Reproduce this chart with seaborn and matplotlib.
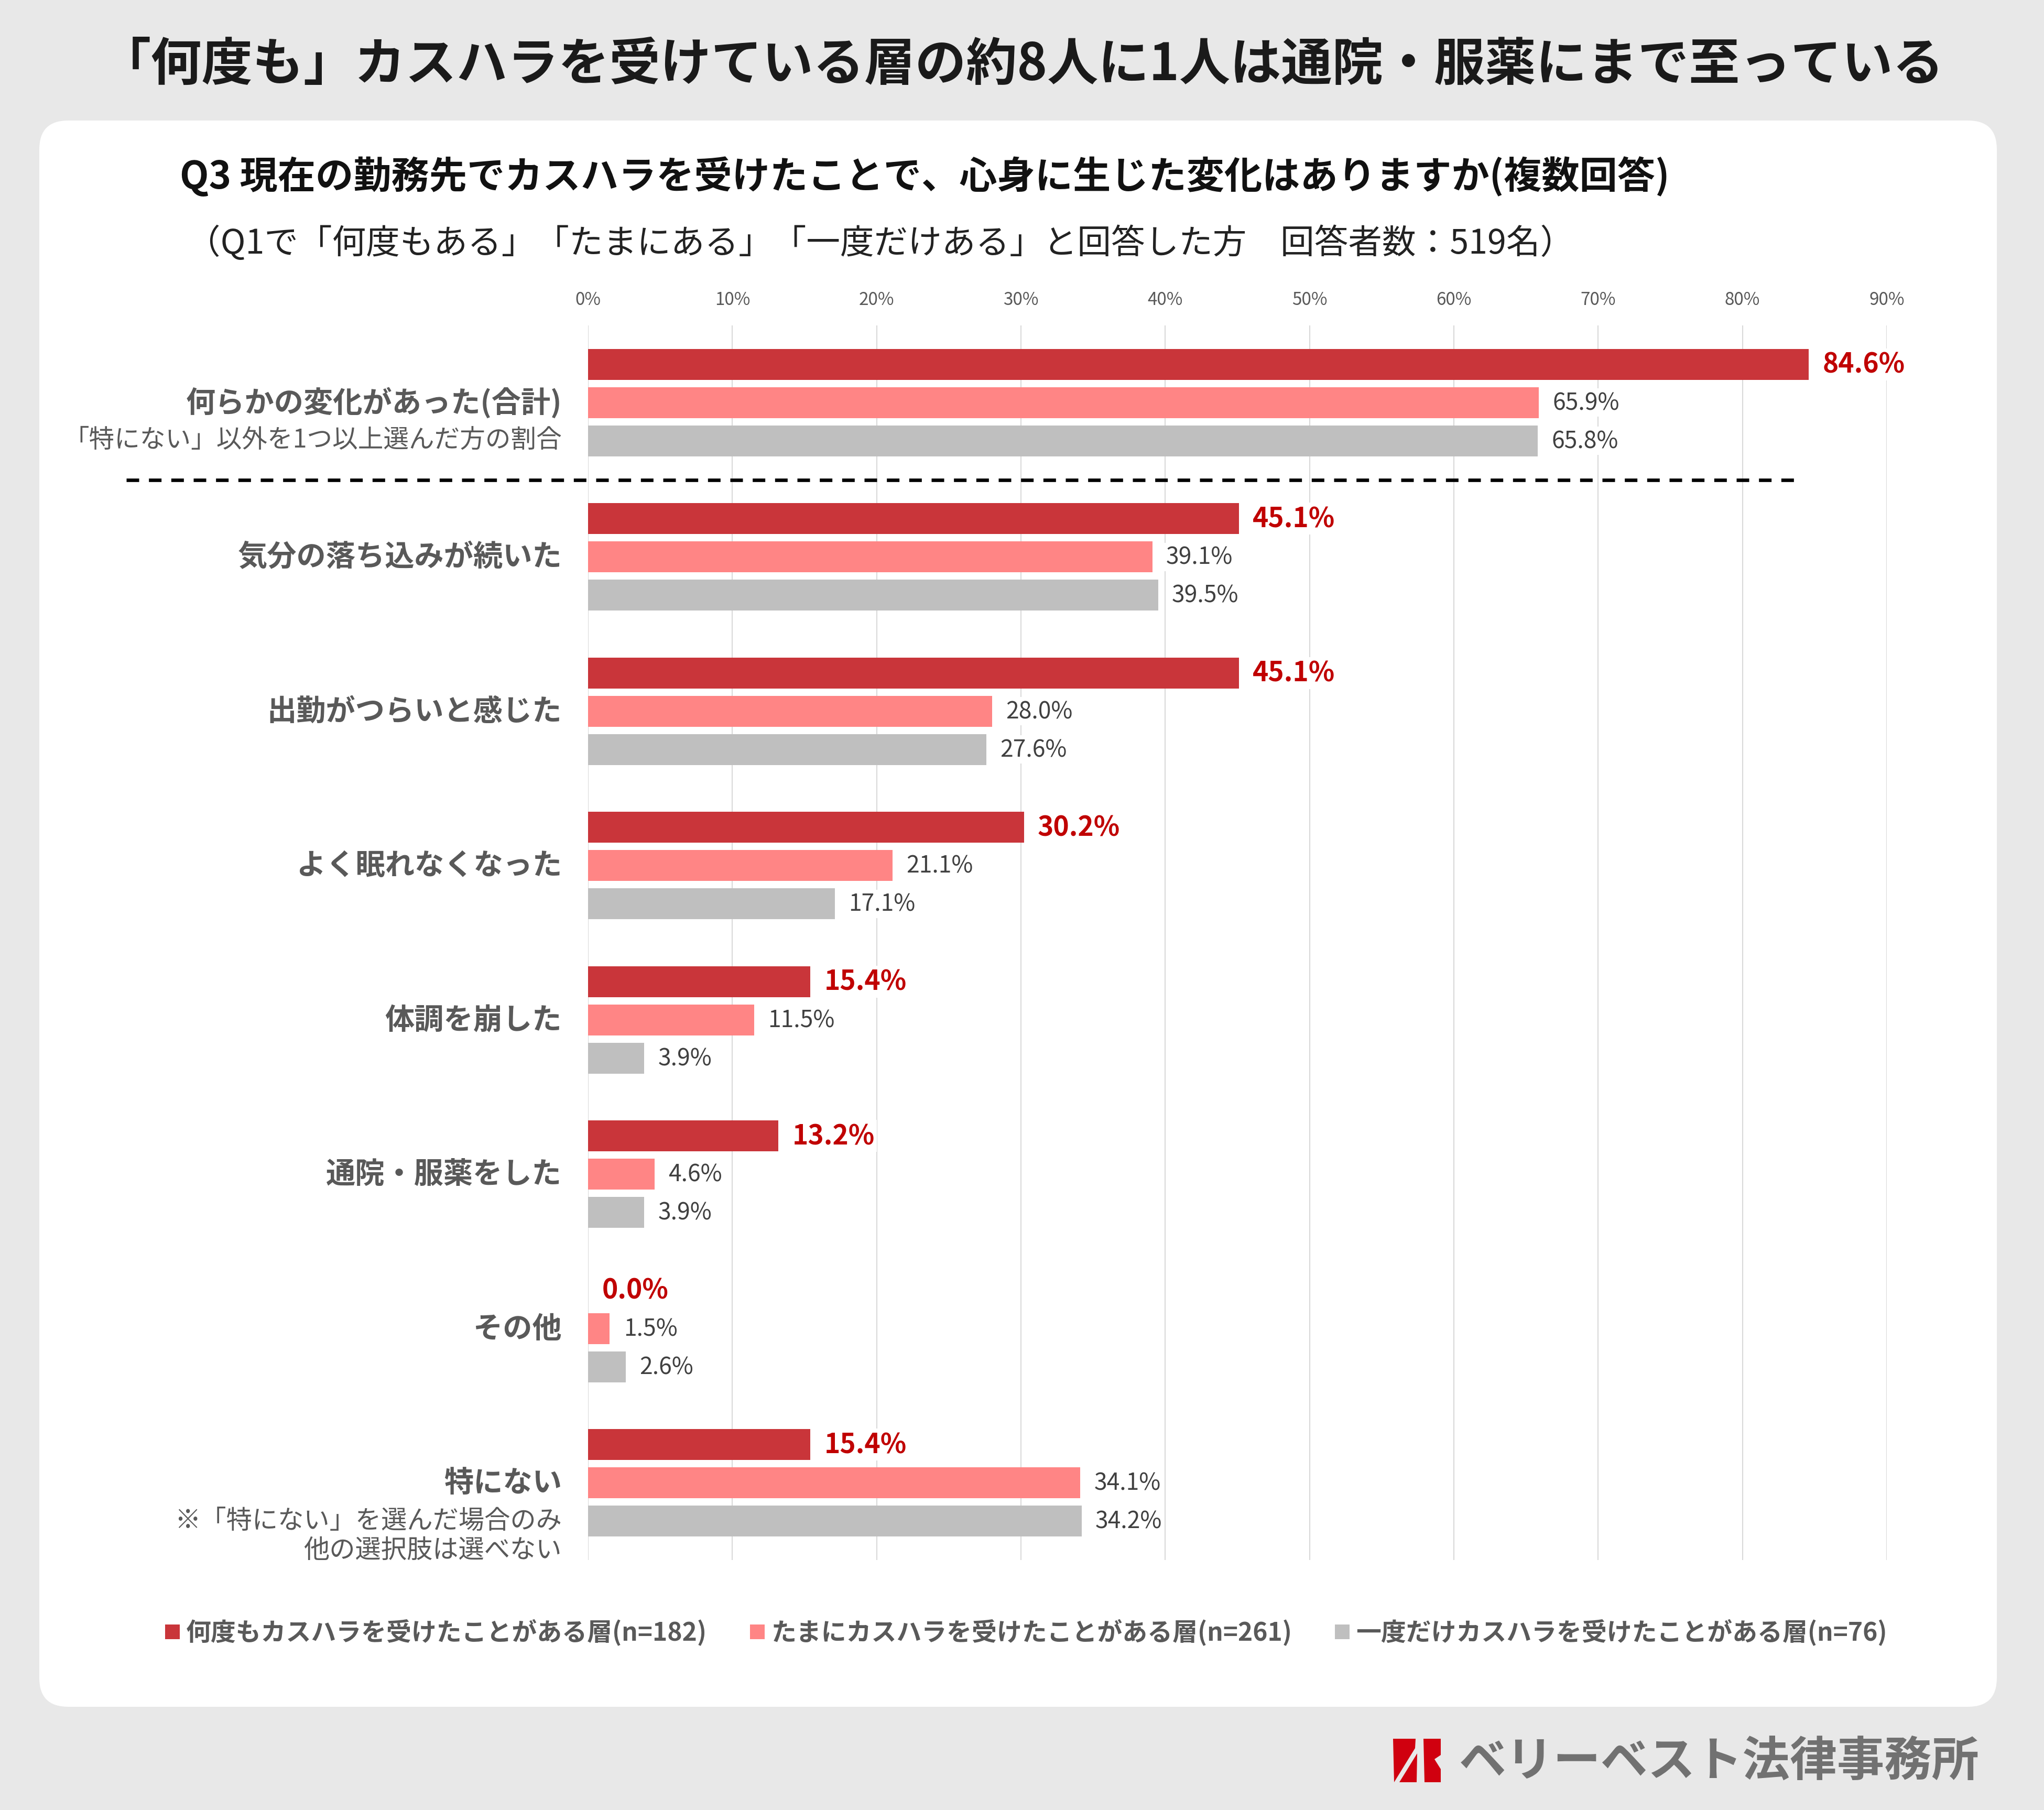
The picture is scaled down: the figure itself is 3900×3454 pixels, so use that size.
import matplotlib
matplotlib.use("Agg")
import matplotlib.pyplot as plt
from matplotlib.patches import FancyBboxPatch, Polygon
from matplotlib.lines import Line2D
import pandas as pd
import seaborn as sns

# ------- DATA ---------

title = "「何度も」カスハラを受けている層の約8人に1人は通院・服薬にまで至っている"
question = "Q3 現在の勤務先でカスハラを受けたことで、心身に生じた変化はありますか(複数回答)"
note_top = "（Q1で「何度もある」「たまにある」「一度だけある」と回答した方　回答者数：519名）"
brand = "ベリーベスト法律事務所"

categories = ["何らかの変化があった(合計)", "気分の落ち込みが続いた", "出勤がつらいと感じた",
              "よく眠れなくなった", "体調を崩した", "通院・服薬をした", "その他", "特にない"]
sublabels = {0: "「特にない」以外を1つ以上選んだ方の割合",
             7: "※「特にない」を選んだ場合のみ\n他の選択肢は選べない"}
groups = ["何度もカスハラを受けたことがある層(n=182)",
          "たまにカスハラを受けたことがある層(n=261)",
          "一度だけカスハラを受けたことがある層(n=76)"]
often = [84.6, 45.1, 45.1, 30.2, 15.4, 13.2, 0.0, 15.4]
sometimes = [65.9, 39.1, 28.0, 21.1, 11.5, 4.6, 1.5, 34.1]
once = [65.8, 39.5, 27.6, 17.1, 3.9, 3.9, 2.6, 34.2]
xticks = [0, 10, 20, 30, 40, 50, 60, 70, 80, 90]

colors = ["#c9353a", "#ff8585", "#bfbfbf"]
label_gray = "#595959"

rows = []
for g, vals in zip(groups, [often, sometimes, once]):
    for c, v in zip(categories, vals):
        rows.append({"category": c, "group": g, "value": v})
df = pd.DataFrame(rows)

# ------- STYLE ---------

sns.set_theme(style="white")
plt.rcParams["font.family"] = ["Noto Sans CJK JP", "DejaVu Sans"]

W, H = 3900, 3455
fig = plt.figure(figsize=(W / 100, H / 100), dpi=100, facecolor="#e8e8e8")


def fx(px):
    return px / W


def fy(py):
    return 1 - py / H


# white rounded panel (inches), kept behind the axes
panel = FancyBboxPatch((0.75, 1.97), 37.35, 30.27,
                       boxstyle="round,pad=0,rounding_size=0.55",
                       transform=fig.dpi_scale_trans,
                       facecolor="white", edgecolor="none", zorder=-5)
fig.patches.append(panel)

# ------- CHART ---------

ax = fig.add_axes([fx(1122), fy(2978), (3600 - 1122) / W, (2978 - 622) / H])
ax.patch.set_alpha(0)
ax.set_zorder(2)

sns.barplot(data=df, x="value", y="category", hue="group", orient="h",
            palette=colors, saturation=1, width=0.743, gap=0.19,
            linewidth=0, legend=False, ax=ax)

ax.set_xlim(0, 90)
ax.set_ylim(7.5, -0.5)
ax.xaxis.tick_top()
ax.set_xticks(xticks)
ax.set_xticklabels([f"{t}%" for t in xticks], fontsize=24, color=label_gray)
ax.set_yticks(range(len(categories)))
ax.set_yticklabels([])
ax.tick_params(length=0)
ax.tick_params(axis="x", pad=23)
ax.set_xlabel("")
ax.set_ylabel("")
for s in ax.spines.values():
    s.set_visible(False)
ax.grid(axis="x", color="#d9d9d9", linewidth=1.5)
ax.grid(axis="y", visible=False)
ax.set_axisbelow(True)

# value labels
for i, cont in enumerate(ax.containers):
    labels = [f"{v:.1f}%" for v in cont.datavalues]
    if i == 0:
        ax.bar_label(cont, labels=labels, padding=19, fontsize=37, fontweight="bold",
                     color="#c00000", bbox=dict(facecolor="white", edgecolor="none", pad=3))
    else:
        ax.bar_label(cont, labels=labels, padding=19, fontsize=32, color="#404040",
                     bbox=dict(facecolor="white", edgecolor="none", pad=3))

# category labels
trans = ax.get_yaxis_transform()
lx = (1072 - 1122) / (3600 - 1122)
for i, cat in enumerate(categories):
    ax.text(lx, i, cat, transform=trans, ha="right", va="center",
            fontsize=40.5, fontweight="bold", color=label_gray)
ax.text(lx, 0 + 0.24, sublabels[0], transform=trans, ha="right", va="center",
        fontsize=35, color=label_gray)
ax.text(lx, 7 + 0.34, sublabels[7], transform=trans, ha="right", va="center",
        multialignment="right", linespacing=1.1, fontsize=35.5, color=label_gray)

# dashed separator
fig.add_artist(Line2D([fx(241), fx(3427)], [fy(917), fy(917)], color="black",
                      linewidth=4.8, linestyle=(0, (3.6, 2.8)), zorder=3))

# ------- TEXT ---------

fig.text(0.5, fy(124), title, ha="center", va="center", fontsize=70,
         fontweight="bold", color="#1a1a1a")
fig.text(fx(343), fy(338), question, ha="left", va="center", fontsize=52,
         fontweight="bold", color="#111111")
fig.text(fx(356), fy(465), note_top, ha="left", va="center", fontsize=46.5,
         color="#222222")

# legend
handles = [Line2D([], [], marker="s", linestyle="none", markersize=20,
                  markerfacecolor=c, markeredgewidth=0) for c in colors]
fig.legend(handles, groups, loc="center", bbox_to_anchor=(0.502, fy(3116)), ncol=3,
           frameon=False, prop={"size": 34.5, "weight": "bold"}, labelcolor=label_gray,
           handlelength=0.6, handletextpad=0.25, columnspacing=1.7)

# brand mark + name
mark = [
    [(2658, 3319), (2701, 3319), (2700, 3337), (2660, 3402)],
    [(2670, 3402), (2704, 3347), (2703, 3402)],
    [(2716, 3319), (2749, 3319), (2749, 3350), (2737, 3358), (2749, 3377),
     (2749, 3402), (2718, 3402)],
]
for pts in mark:
    fig.patches.append(Polygon([(fx(x), fy(y)) for x, y in pts], closed=True,
                               transform=fig.transFigure, facecolor="#d0000f",
                               edgecolor="none"))
fig.text(fx(2784), fy(3362), brand, ha="left", va="center", fontsize=65,
         fontweight="bold", color="#717171")

plt.savefig("out.png", dpi=100, facecolor=fig.get_facecolor())
plt.close()
